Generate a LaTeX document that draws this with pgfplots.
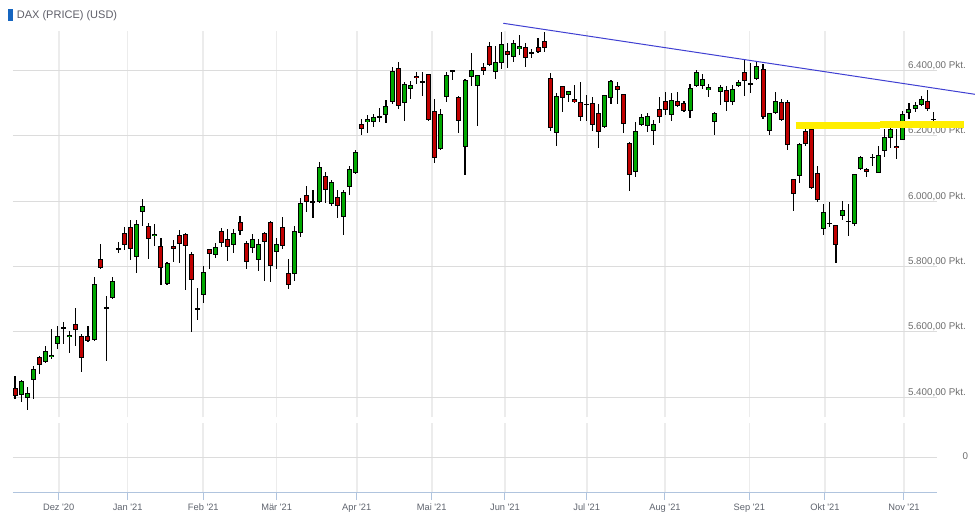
\documentclass[border=0pt]{standalone}
\usepackage{fontspec}
\setmainfont{Liberation Sans}[Ligatures=TeXOff]
\usepackage{pgfplots}
\pgfplotsset{compat=1.18}
\usepackage{pgfplotstable}
\definecolor{cgreen}{RGB}{0,168,0}
\definecolor{cred}{RGB}{192,0,0}
\definecolor{hgrid}{RGB}{220,220,220}
\definecolor{vgrid}{RGB}{236,236,236}
\definecolor{axcol}{RGB}{176,196,222}
\definecolor{lblcol}{RGB}{110,110,110}
\definecolor{xlblcol}{RGB}{95,100,110}
\definecolor{trend}{RGB}{64,64,210}
\definecolor{hilite}{RGB}{255,238,0}
\definecolor{titleblue}{RGB}{21,101,192}
\definecolor{titlegray}{RGB}{95,95,105}

\pgfplotstableread{
k O H L C
0 5427 5465 5394 5404
1 5405 5451 5386 5448
2 5396 5430 5361 5412
3 5451 5495 5395 5485
4 5522 5526 5472 5497
5 5506 5556 5504 5540
6 5522 5608 5517 5529
7 5562 5618 5548 5586
8 5611 5630 5563 5612
9 5583 5602 5536 5590
10 5623 5673 5557 5604
11 5586 5592 5478 5519
12 5586 5618 5569 5571
13 5574 5767 5572 5745
14 5822 5869 5792 5794
15 5672 5708 5511 5673
16 5702 5767 5700 5754
17 5854 5874 5840 5855
18 5901 5920 5850 5865
19 5920 5942 5821 5852
20 5828 5942 5781 5929
21 5966 6005 5925 5985
22 5923 5933 5824 5883
23 5892 5930 5863 5899
24 5862 5887 5744 5794
25 5745 5813 5743 5810
26 5862 5881 5812 5854
27 5895 5911 5811 5868
28 5898 5902 5729 5863
29 5837 5844 5600 5757
30 5666 5734 5637 5672
31 5712 5801 5689 5782
32 5852 5854 5793 5837
33 5834 5872 5827 5858
34 5907 5918 5860 5871
35 5885 5914 5817 5858
36 5865 5914 5842 5901
37 5935 5954 5897 5907
38 5871 5879 5793 5812
39 5855 5899 5842 5883
40 5819 5884 5787 5868
41 5901 5906 5756 5874
42 5935 5939 5753 5800
43 5843 5887 5791 5868
44 5920 5951 5852 5862
45 5779 5824 5732 5742
46 5776 5924 5756 5907
47 5901 6008 5891 5993
48 6018 6046 5967 5996
49 5993 6034 5948 5999
50 5998 6120 5993 6103
51 6076 6089 5993 6033
52 5990 6064 5985 6057
53 6011 6034 5947 5986
54 5950 6034 5896 6027
55 6044 6108 6019 6098
56 6085 6156 6083 6149
57 6236 6250 6203 6221
58 6243 6263 6209 6250
59 6243 6267 6228 6256
60 6256 6285 6243 6260
61 6262 6308 6239 6290
62 6304 6409 6298 6397
63 6406 6426 6283 6290
64 6299 6365 6246 6357
65 6342 6366 6312 6354
66 6383 6396 6358 6376
67 6364 6395 6322 6365
68 6388 6390 6246 6249
69 6275 6312 6117 6131
70 6160 6282 6157 6266
71 6318 6395 6304 6385
72 6400 6402 6371 6394
73 6318 6320 6209 6244
74 6165 6374 6081 6370
75 6379 6453 6352 6400
76 6351 6387 6229 6385
77 6409 6422 6385 6397
78 6474 6487 6413 6415
79 6394 6475 6373 6426
80 6422 6518 6403 6480
81 6458 6483 6406 6446
82 6440 6493 6425 6483
83 6464 6508 6446 6474
84 6471 6483 6409 6437
85 6449 6464 6437 6455
86 6471 6498 6453 6455
87 6489 6516 6455 6468
88 6376 6391 6216 6223
89 6207 6330 6169 6321
90 6351 6353 6274 6314
91 6324 6338 6304 6336
92 6311 6354 6300 6302
93 6302 6363 6246 6256
94 6295 6324 6246 6296
95 6299 6318 6215 6232
96 6269 6296 6163 6210
97 6226 6326 6223 6324
98 6314 6370 6296 6367
99 6351 6363 6296 6339
100 6327 6329 6207 6235
101 6177 6180 6030 6079
102 6088 6241 6073 6213
103 6232 6265 6230 6256
104 6229 6269 6212 6259
105 6216 6247 6171 6235
106 6281 6318 6238 6256
107 6305 6333 6262 6278
108 6262 6332 6244 6308
109 6305 6333 6288 6290
110 6299 6305 6272 6275
111 6275 6357 6253 6345
112 6351 6400 6349 6394
113 6351 6388 6342 6373
114 6339 6357 6318 6348
115 6241 6272 6201 6269
116 6333 6354 6293 6348
117 6339 6351 6275 6302
118 6302 6354 6293 6342
119 6351 6370 6348 6363
120 6394 6431 6321 6367
121 6359 6422 6330 6360
122 6373 6425 6371 6412
123 6403 6419 6250 6256
124 6213 6271 6201 6269
125 6269 6333 6267 6305
126 6302 6311 6244 6247
127 6302 6308 6155 6171
128 6067 6069 5970 6021
129 6076 6177 6054 6174
130 6213 6241 6168 6174
131 6220 6226 6037 6039
132 6085 6106 5996 6002
133 5914 5991 5895 5966
134 5931 5997 5921 5932
135 5926 5928 5809 5865
136 5953 5999 5941 5972
137 5937 5990 5894 5938
138 5929 6084 5923 6082
139 6099 6139 6096 6136
140 6099 6101 6074 6090
141 6133 6145 6108 6134
142 6087 6169 6085 6142
143 6154 6221 6136 6197
144 6194 6245 6163 6220
145 6168 6221 6130 6161
146 6188 6276 6186 6267
147 6269 6299 6250 6281
148 6281 6302 6272 6293
149 6293 6321 6290 6311
150 6305 6339 6275 6281
151 6250 6272 6244 6251
}\candles

\pgfplotsset{
  monthticks/.style={
    xtick={7.186,18.53,30.96,43.03,56.19,68.52,80.57,94.01,106.88,120.75,133.19,146.18},
  },
  base/.style={
    scale only axis, anchor=south west, width=923.7pt,
    xmin=-0.329, xmax=151.56, monthticks,
  },
}

\begin{document}
\begin{tikzpicture}
\fill[white] (0pt,0pt) rectangle (975pt,522pt);
\path[use as bounding box] (0pt,0pt) rectangle (975pt,522pt);

% upper panel
\begin{axis}[base, at={(13pt,104.7pt)}, height=386.3pt,
  ymin=5338, ymax=6520.5,
  axis line style={draw=none},
  xticklabels={,,,,,,,,,,,},
  ytick={5400,5600,5800,6000,6200,6400},
  yticklabels={{5.400,00 Pkt.},{5.600,00 Pkt.},{5.800,00 Pkt.},{6.000,00 Pkt.},{6.200,00 Pkt.},{6.400,00 Pkt.}},
  yticklabel pos=right,
  yticklabel style={anchor=base east, inner sep=0pt, xshift=29.3pt, yshift=2pt, font=\fontsize{9.8}{11}\selectfont, text=lblcol},
  tick style={draw=none}, major tick length=0pt,
  xmajorgrids, ymajorgrids,
  x grid style={vgrid, line width=1.6pt},
  y grid style={hgrid, line width=1pt},
  clip=false,
]
% wicks
\addplot[draw=none, mark=none, forget plot,
  error bars/.cd, y dir=both, y explicit, error mark=none,
  error bar style={draw=black, line width=1.1pt}]
  table[x=k, y expr={(\thisrow{H}+\thisrow{L})/2}, y error expr={(\thisrow{H}-\thisrow{L})/2}]{\candles};
% body outlines
\addplot[draw=none, mark=none, forget plot,
  error bars/.cd, y dir=both, y explicit, error mark=none,
  error bar style={draw=black, line width=5pt}]
  table[x=k, y expr={(\thisrow{O}+\thisrow{C})/2}, y error expr={max(abs(\thisrow{C}-\thisrow{O})/2,1.6)}]{\candles};
% green bodies
\addplot[draw=none, mark=none, forget plot,
  restrict expr to domain={\thisrow{C}-\thisrow{O}}{0:100000},
  error bars/.cd, y dir=both, y explicit, error mark=none,
  error bar style={draw=cgreen, line width=3pt}]
  table[x=k, y expr={(\thisrow{O}+\thisrow{C})/2}, y error expr={max(abs(\thisrow{C}-\thisrow{O})/2-3.06,0)}]{\candles};
% red bodies
\addplot[draw=none, mark=none, forget plot,
  restrict expr to domain={\thisrow{C}-\thisrow{O}}{-100000:-0.5},
  error bars/.cd, y dir=both, y explicit, error mark=none,
  error bar style={draw=cred, line width=3pt}]
  table[x=k, y expr={(\thisrow{O}+\thisrow{C})/2}, y error expr={max(abs(\thisrow{C}-\thisrow{O})/2-3.06,0)}]{\candles};
\end{axis}

% lower panel (zero level) with the date axis
\begin{axis}[base, at={(13pt,29.7pt)}, height=69pt,
  ymin=-1, ymax=1,
  axis x line*=bottom, axis y line*=right,
  x axis line style={draw=axcol, line width=1pt},
  y axis line style={draw=none},
  xticklabels={{Dez '20},{Jan '21},{Feb '21},{M\"ar '21},{Apr '21},{Mai '21},{Jun '21},{Jul '21},{Aug '21},{Sep '21},{Okt '21},{Nov '21}},
  ytick={0}, yticklabels={0},
  xtick style={draw=axcol, line width=1pt},
  ytick style={draw=none},
  tick align=outside, major tick length=7.7pt,
  xticklabel style={anchor=base, inner sep=0pt, yshift=-10.1pt, font=\fontsize{9.3}{11}\selectfont, text=xlblcol},
  yticklabel style={anchor=east, inner sep=0pt, xshift=23.8pt, yshift=1.6pt, font=\fontsize{9.8}{11}\selectfont, text=lblcol},
  xmajorgrids, ymajorgrids,
  x grid style={vgrid, line width=1.6pt},
  y grid style={hgrid, line width=1pt},
]
\addplot[draw=none, forget plot] coordinates {(0,0)};
\end{axis}

% overlay: highlight band and trend line
\begin{axis}[base, at={(13pt,104.7pt)}, height=386.3pt,
  ymin=5338, ymax=6520.5, hide axis, clip=false]
\addplot[hilite, line width=7pt, forget plot] coordinates {(128.38,6230.3) (142.24,6230.3)};
\addplot[hilite, line width=7pt, forget plot] coordinates {(142.24,6234.9) (156.05,6234.9)};
\addplot[trend, line width=1pt, forget plot] coordinates {(80.29,6544.1) (157.86,6326.7)};
\end{axis}

\fill[titleblue] (8.3pt,501.3pt) rectangle (12.7pt,512.7pt);
\node[anchor=base west, inner sep=0pt, font=\fontsize{11}{13}\selectfont, text=titlegray] at (16.7pt,503.1pt) {DAX (PRICE) (USD)};
\end{tikzpicture}
\end{document}
